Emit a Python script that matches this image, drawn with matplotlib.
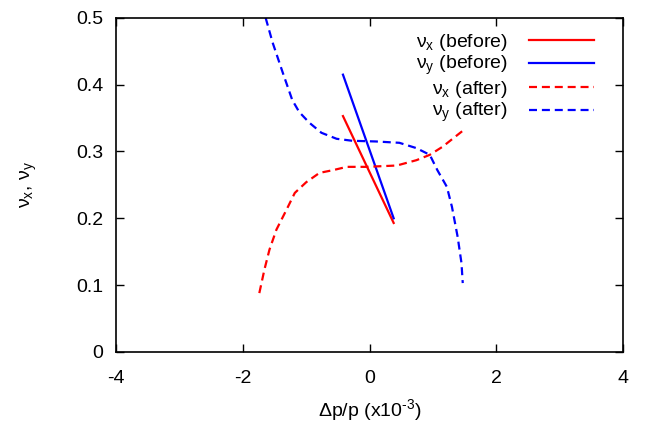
import matplotlib
matplotlib.use("Agg")
import matplotlib.pyplot as plt

plt.rcParams['font.family'] = ['Liberation Sans', 'DejaVu Sans']
plt.rcParams['mathtext.fontset'] = 'custom'
plt.rcParams['mathtext.rm'] = 'Liberation Sans'
plt.rcParams['mathtext.it'] = 'Liberation Sans'
plt.rcParams['mathtext.default'] = 'regular'
plt.rcParams['axes.unicode_minus'] = False

# tune vs momentum deviation (x1e-3)
dp_before = [-0.42, 0.38]
nux_before = [0.353, 0.193]
nuy_before = [0.415, 0.200]

dp_nux_after = [-1.74, -1.66, -1.58, -1.47, -1.31, -1.18, -1.00, -0.79, -0.58, -0.36,
                -0.05, 0.43, 0.74, 0.95, 1.15, 1.47]
nux_after = [0.088, 0.123, 0.153, 0.183, 0.213, 0.238, 0.254, 0.268, 0.272, 0.277,
             0.277, 0.279, 0.287, 0.295, 0.307, 0.331]

dp_nuy_after = [-1.64, -1.53, -1.37, -1.22, -1.11, -0.95, -0.76, -0.52, -0.27, 0.10, 0.47,
                0.74, 0.95, 1.07, 1.22, 1.30, 1.39, 1.45, 1.47]
nuy_after = [0.500, 0.463, 0.418, 0.377, 0.359, 0.343, 0.328, 0.319, 0.316, 0.315, 0.313,
             0.305, 0.295, 0.272, 0.247, 0.217, 0.172, 0.133, 0.103]

fig = plt.figure(figsize=(6.45, 4.26), dpi=100)
ax = fig.add_axes([0.18, 0.174, 0.786, 0.784])

dash = (0, (3.6, 2.2))
ax.plot(dp_before, nux_before, color='#ff0000', lw=1.6, label=r'$\nu_x$ (before)')
ax.plot(dp_before, nuy_before, color='#0000ff', lw=1.6, label=r'$\nu_y$ (before)')
ax.plot(dp_nux_after, nux_after, color='#ff0000', lw=1.6, ls=dash, label=r'$\nu_x$ (after)')
ax.plot(dp_nuy_after, nuy_after, color='#0000ff', lw=1.6, ls=dash, label=r'$\nu_y$ (after)')

ax.set_xlim(-4, 4)
ax.set_ylim(0, 0.5)
ax.set_xticks([-4, -2, 0, 2, 4])
ax.set_yticks([0, 0.1, 0.2, 0.3, 0.4, 0.5])
ax.set_yticklabels(['0', '0.1', '0.2', '0.3', '0.4', '0.5'])
ax.tick_params(direction='in', top=True, right=True, length=6, width=1, labelsize=14)
ax.tick_params(axis='x', pad=13)
ax.tick_params(axis='y', pad=9)
for s in ax.spines.values():
    s.set_linewidth(1.2)

ax.set_xlabel('\u0394p/p (x10$^{\u20103}$)', fontsize=14, labelpad=7)
ax.set_ylabel(r'$\nu_x$, $\nu_y$', fontsize=14, labelpad=27)

ax.legend(loc='upper right', bbox_to_anchor=(0.943, 0.958), frameon=False, markerfirst=False,
          fontsize=14, handlelength=3.35, labelspacing=0.07, handletextpad=1.1, borderpad=0,
          borderaxespad=0)

fig.savefig('out.png', dpi=100)
